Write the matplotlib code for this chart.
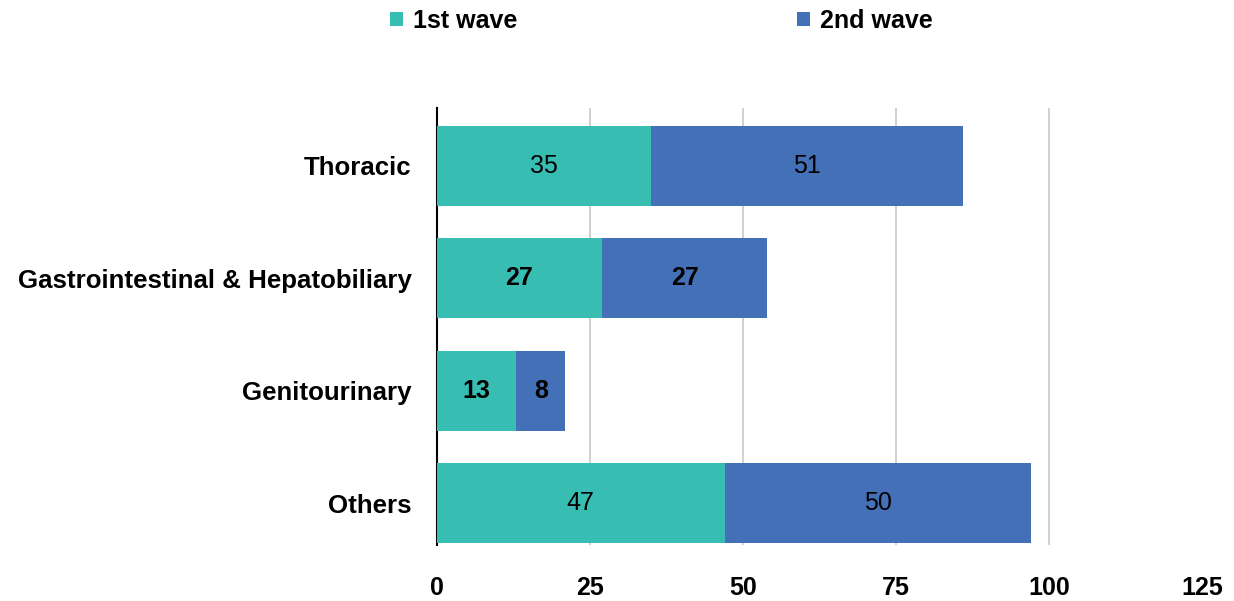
import numpy as np
import matplotlib
matplotlib.use("Agg")
import matplotlib.pyplot as plt
from matplotlib.patches import Patch

plt.rcParams['font.family'] = ['Liberation Sans', 'DejaVu Sans']

categories = ["Thoracic", "Gastrointestinal & Hepatobiliary", "Genitourinary", "Others"]
wave1 = [35, 27, 13, 47]
wave2 = [51, 27, 8, 50]
series_names = ["1st wave", "2nd wave"]
xticks = [0, 25, 50, 75, 100, 125]

c1 = "#38BDB3"
c2 = "#4470B8"

fig = plt.figure(figsize=(12.34, 6.01), dpi=100)
ax = fig.add_axes([0.354, 0.093, 0.620, 0.727])

y = np.arange(len(categories))
h = 0.71
ax.barh(y, wave1, height=h, color=c1, zorder=3)
ax.barh(y, wave2, left=wave1, height=h, color=c2, zorder=3)

# labels in the middle of each segment (some rows bold in the original)
weights = ["normal", "bold", "bold", "normal"]
for i in range(len(categories)):
    ax.text(wave1[i] / 2, y[i], str(wave1[i]), ha="center", va="center",
            fontsize=18, fontweight=weights[i], color="black", zorder=4)
    ax.text(wave1[i] + wave2[i] / 2, y[i], str(wave2[i]), ha="center", va="center",
            fontsize=18, fontweight=weights[i], color="black", zorder=4)

ax.set_xlim(0, 125)
ax.set_ylim(3.37, -0.51)
ax.set_yticks(y)
ax.set_yticklabels(categories, fontsize=18.6, fontweight="bold")
ax.set_xticks(xticks)
ax.set_xticklabels([str(t) for t in xticks], fontsize=18, fontweight="bold")
ax.tick_params(axis="both", length=0)
ax.tick_params(axis="x", pad=22)
ax.tick_params(axis="y", pad=18)

ax.grid(axis="x", color="#c8c8c8", linewidth=1.2, zorder=0)
ax.xaxis.get_gridlines()[-1].set_visible(False)
ax.xaxis.get_gridlines()[0].set_visible(False)
for s in ["top", "right", "bottom"]:
    ax.spines[s].set_visible(False)
ax.spines["left"].set_color("black")
ax.spines["left"].set_linewidth(1.5)

handles = [Patch(facecolor=c1), Patch(facecolor=c2)]
fig.legend(handles, series_names, loc="center", bbox_to_anchor=(0.536, 0.965),
           ncol=2, frameon=False, handlelength=0.5, handleheight=0.5,
           handletextpad=0.4, columnspacing=11.2,
           prop={"weight": "bold", "size": 18})

fig.savefig("out.png", dpi=100)
